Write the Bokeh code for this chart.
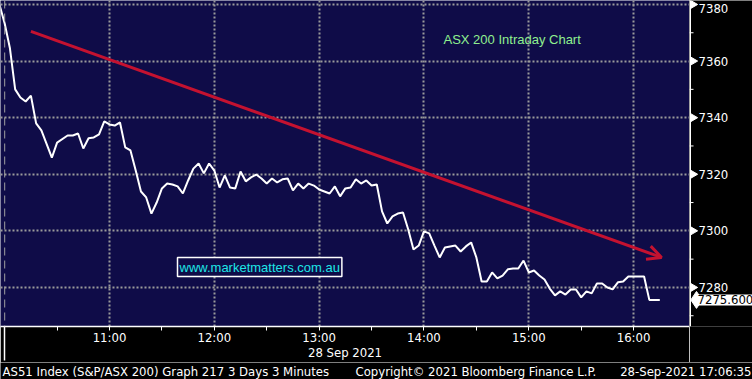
import math
from bokeh.plotting import figure
from bokeh.layouts import column, row
from bokeh.models import (Range1d, FixedTicker, Label, Span, Arrow, OpenHead,
                          ColumnDataSource)
from bokeh.core.properties import value
from bokeh.embed import file_html
from bokeh.resources import INLINE

# ---------------- data ----------------
# minutes after 10:00 (3-minute bars), 28 Sep 2021
minutes = [-3, 0, 3, 6, 9, 12, 15, 18, 21, 27, 30,
           36, 39, 42, 45, 48, 51, 54, 57,
           60, 63, 66, 69, 72, 75, 78, 81, 84, 87,
           90, 93, 96, 99, 102, 105, 108, 111, 114, 117,
           120, 123, 126, 129, 132, 135, 138, 141, 144, 147,
           150, 153, 156, 159, 162, 165, 168, 171, 174, 177,
           180, 183, 186, 189, 192, 195, 198, 201, 204, 207,
           210, 213, 216, 219, 222, 225, 228, 231, 234, 237,
           240, 243, 246, 249, 252, 255, 258, 261, 264, 267,
           270, 273, 276, 279, 282, 285, 288, 291, 294, 297,
           300, 303, 306, 309, 312, 315, 318, 321, 324, 327,
           330, 333, 336, 339, 342, 345, 348, 351, 354, 357,
           360, 366, 369, 375]
index_values = [7380.0, 7373.3, 7364.5, 7350.0, 7347.1, 7345.7, 7347.8, 7338.0, 7335.5, 7325.9, 7331.2,
                7333.7, 7333.7, 7334.4, 7329.1, 7332.7, 7333.0, 7334.1, 7338.7,
                7337.6, 7337.2, 7338.3, 7329.5, 7328.4, 7321.3, 7313.9, 7311.8, 7306.1, 7310.0,
                7315.0, 7316.7, 7316.4, 7315.7, 7313.2, 7317.8, 7322.0, 7323.8, 7320.3, 7323.8,
                7321.3, 7315.3, 7319.6, 7315.3, 7315.0, 7321.0, 7317.5, 7318.9, 7319.9, 7318.5,
                7316.7, 7318.5, 7317.1, 7318.2, 7318.5, 7314.3, 7316.7, 7315.0, 7316.7, 7316.0,
                7314.6, 7313.9, 7313.2, 7315.7, 7312.2, 7315.0, 7315.3, 7318.2, 7316.7, 7317.8,
                7316.0, 7316.4, 7306.9, 7302.6, 7305.1, 7306.1, 7306.5, 7300.5, 7293.4, 7294.8,
                7299.8, 7299.1, 7294.8, 7290.6, 7294.1, 7294.5, 7294.8, 7292.7, 7294.5, 7295.9,
                7290.6, 7282.1, 7282.1, 7285.3, 7283.2, 7284.2, 7286.4, 7286.7, 7286.7, 7289.5,
                7285.3, 7286.0, 7284.2, 7282.8, 7279.6, 7277.2, 7278.6, 7277.5, 7279.3, 7279.3,
                7276.5, 7278.6, 7277.9, 7281.4, 7281.4, 7280.0, 7279.3, 7281.8, 7282.1, 7283.9,
                7283.9, 7283.9, 7275.6, 7275.6]

hour_labels = ["11:00", "12:00", "13:00", "14:00", "15:00", "16:00"]
half_hour_labels = ["10:30", "11:30", "12:30", "13:30", "14:30", "15:30"]
session_open = "10:00"
y_ticks = [7280, 7300, 7320, 7340, 7360, 7380]
y_tick_labels = ["7280", "7300", "7320", "7340", "7360", "7380"]
y_minor = [7270, 7290, 7310, 7330, 7350, 7370]

trend_times = ["10:15", "16:16"]
trend_values = [7370.5, 7290.6]

date_label = "28 Sep 2021"
title_text = "ASX 200 Intraday Chart"
site_text = "www.marketmatters.com.au"
footer_left = "AS51 Index (S&P/ASX 200) Graph 217 3 Days 3 Minutes"
footer_mid = "Copyright\u00a9 2021 Bloomberg Finance L.P."
footer_right = "28-Sep-2021 17:06:35"


def to_min(s):
    h, m = s.split(":")
    return (int(h) - 10) * 60 + int(m)


NAVY = "#0f0c48"
RED = "#c41230"
GRID = "#9a9a9a"
FONT = "'DejaVu Sans Condensed', 'Liberation Sans Narrow', 'DejaVu Sans', sans-serif"
COMMON = dict(output_backend="svg", toolbar_location=None)

# ---------------- main chart area ----------------
yr = Range1d(7266.2, 7381.4)
A = figure(width=689, height=362, x_range=Range1d(-2.4, 392), y_range=yr,
           y_axis_location=None, min_border_left=0, min_border_right=0,
           min_border_top=0, min_border_bottom=36,
           background_fill_color=NAVY, border_fill_color="black",
           outline_line_color=None, **COMMON)

hour_ticks = [to_min(s) for s in hour_labels]
half_ticks = [to_min(s) for s in half_hour_labels]
open_tick = to_min(session_open)

A.xgrid.ticker = FixedTicker(ticks=hour_ticks)
A.ygrid.ticker = FixedTicker(ticks=y_ticks)
for g in (A.xgrid, A.ygrid):
    g.grid_line_color = GRID
    g.grid_line_dash = "2 2"
    g.grid_line_width = 2

A.add_layout(Span(location=open_tick, dimension="height",
                  line_color="#a0a0a0", line_dash="8 5", line_width=1))

xa = A.xaxis[0]
xa.ticker = FixedTicker(ticks=sorted(hour_ticks + half_ticks), minor_ticks=[open_tick])
overrides = {t: "" for t in half_ticks}
overrides.update({t: s for t, s in zip(hour_ticks, hour_labels)})
xa.major_label_overrides = overrides
xa.axis_label = date_label
xa.axis_label_standoff = -3
xa.axis_label_text_font_style = "normal"
xa.axis_line_color = "white"
xa.axis_line_width = 1.5
xa.major_tick_line_color = "white"
xa.minor_tick_line_color = "white"
xa.minor_tick_line_width = 1.5
xa.major_tick_in = 0
xa.major_tick_out = 4
# session-open marker drawn outward without enlarging the axis panel
xa.minor_tick_in = -34
xa.minor_tick_out = 0
xa.major_label_standoff = -1
xa.major_label_text_color = "white"
xa.major_label_text_font = FONT
xa.major_label_text_font_size = "13px"
xa.axis_label_text_color = "white"
xa.axis_label_text_font = FONT
xa.axis_label_text_font_size = "13px"

src = ColumnDataSource(dict(t=minutes, v=index_values))
A.line("t", "v", source=src, line_color="white", line_width=2)

A.add_layout(Arrow(end=OpenHead(size=14, line_color=RED, line_width=3),
                   x_start=to_min(trend_times[0]), y_start=trend_values[0],
                   x_end=to_min(trend_times[1]), y_end=trend_values[1],
                   line_color=RED, line_width=3))

A.add_layout(Label(x=443, y=287, x_units="screen", y_units="screen", text=title_text,
                   text_color="#8ff08f", text_font="Liberation Sans",
                   text_font_size="13px", text_baseline="middle"))
A.add_layout(Label(x=177, y=50, x_units="screen", y_units="screen", text=site_text,
                   text_color="#1ee6e6", text_font="Liberation Sans",
                   text_font_size="13px", text_baseline="bottom",
                   border_line_color="white", border_line_width=1.5,
                   background_fill_color=NAVY, padding=2))

# ---------------- price scale (right) ----------------
B = figure(width=63, height=362, x_range=Range1d(0, 63), y_range=yr,
           x_axis_location=None, y_axis_location=None,
           min_border_left=0, min_border_right=0, min_border_top=0, min_border_bottom=36,
           background_fill_color="black", border_fill_color="black",
           outline_line_color=None, **COMMON)
B.xgrid.visible = False
B.ygrid.visible = False

B.add_layout(Span(location=0.75, dimension="height", line_color="white", line_width=1.5))
B.segment(x0=0, x1=4, y0=y_minor, y1=y_minor, line_color="white", line_width=1)
B.scatter(x=3.5, y=y_ticks, marker="triangle", size=8, angle=-math.pi / 2,
          fill_color="white", line_color="white")
baselines = ["top" if t > yr.end - 3 else "middle" for t in y_ticks]
B.text(x=9, y=y_ticks, text=y_tick_labels, text_baseline=baselines,
       text_color="white", text_font=value(FONT), text_font_size="13px")

last = index_values[-1]
B.scatter(x=7, y=last, marker="diamond", size=17, fill_color="white", line_color="white")
B.add_layout(Label(x=7, y=last, text="%.3f" % last, text_color="black", text_font=FONT,
                   text_font_size="13px", text_baseline="middle",
                   background_fill_color="white", padding=1))

# ---------------- footer ----------------
F = figure(width=752, height=17, x_range=Range1d(0, 752), y_range=Range1d(0, 17),
           x_axis_location=None, y_axis_location=None, min_border=0,
           background_fill_color="black", border_fill_color="black",
           outline_line_color=None, **COMMON)
F.xgrid.visible = False
F.ygrid.visible = False
for txt, x, align in ((footer_left, 2, "left"), (footer_mid, 355, "left"),
                      (footer_right, 751, "right")):
    F.add_layout(Label(x=x, y=8, x_units="screen", y_units="screen", text=txt,
                       text_color="white", text_font=FONT, text_font_size="13px",
                       text_align=align, text_baseline="middle"))

layout = column(row(A, B, spacing=0), F, spacing=0)
open("out.html", "w").write(file_html(layout, INLINE))
